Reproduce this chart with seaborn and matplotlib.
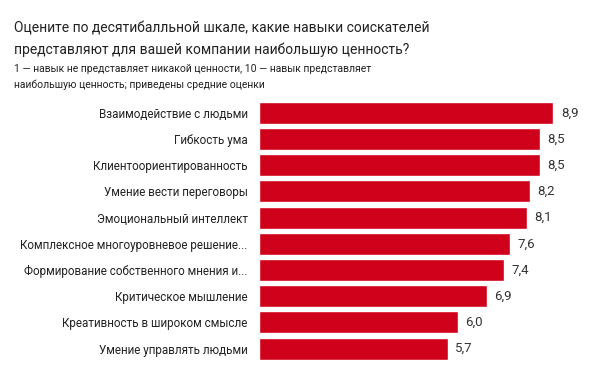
import numpy as np
import pandas as pd
import matplotlib.pyplot as plt
import seaborn as sns

# Данные
skills = ['Взаимодействие с людьми', 'Гибкость ума', 'Клиентоориентированность',
          'Умение вести переговоры', 'Эмоциональный интеллект',
          'Комплексное многоуровневое решение...', 'Формирование собственного мнения и...',
          'Критическое мышление', 'Креативность в широком смысле', 'Умение управлять людьми']
scores = [8.9, 8.5, 8.5, 8.2, 8.1, 7.6, 7.4, 6.9, 6.0, 5.7]

title = 'Оцените по десятибалльной шкале, какие навыки соискателей\nпредставляют для вашей компании наибольшую ценность?'
subtitle = '1 — навык не представляет никакой ценности, 10 — навык представляет\nнаибольшую ценность; приведены средние оценки'

df = pd.DataFrame({'skill': skills, 'score': scores})

sns.set_theme(style='white')
plt.rcParams['font.family'] = ['Roboto', 'DejaVu Sans']

fig = plt.figure(figsize=(6.05, 3.78), dpi=100)
ax = fig.add_axes([0.428, 0.043, 0.547, 0.693])

sns.barplot(data=df, x='score', y='skill', color='#d0021b', saturation=1,
            width=0.84, ax=ax)
ax.set_xlim(0, 10)
ax.set_xlabel('')
ax.set_ylabel('')
ax.set_xticks([])
ax.tick_params(axis='y', length=0, pad=8, labelsize=8.4, labelcolor='#222222')
sns.despine(ax=ax, left=True, bottom=True, top=True, right=True)

for i, v in enumerate(scores):
    ax.text(v + 0.22, i, f'{v:.1f}'.replace('.', ','), va='center', ha='left',
            fontsize=9.5, color='#333333')

fig.text(0.023, 0.943, title, fontsize=10, va='top', ha='left', color='#222222',
         linespacing=1.6)
fig.text(0.023, 0.832, subtitle, fontsize=7.5, va='top', ha='left', color='#222222',
         linespacing=1.7)

fig.savefig('out.png', dpi=100, facecolor='white')
